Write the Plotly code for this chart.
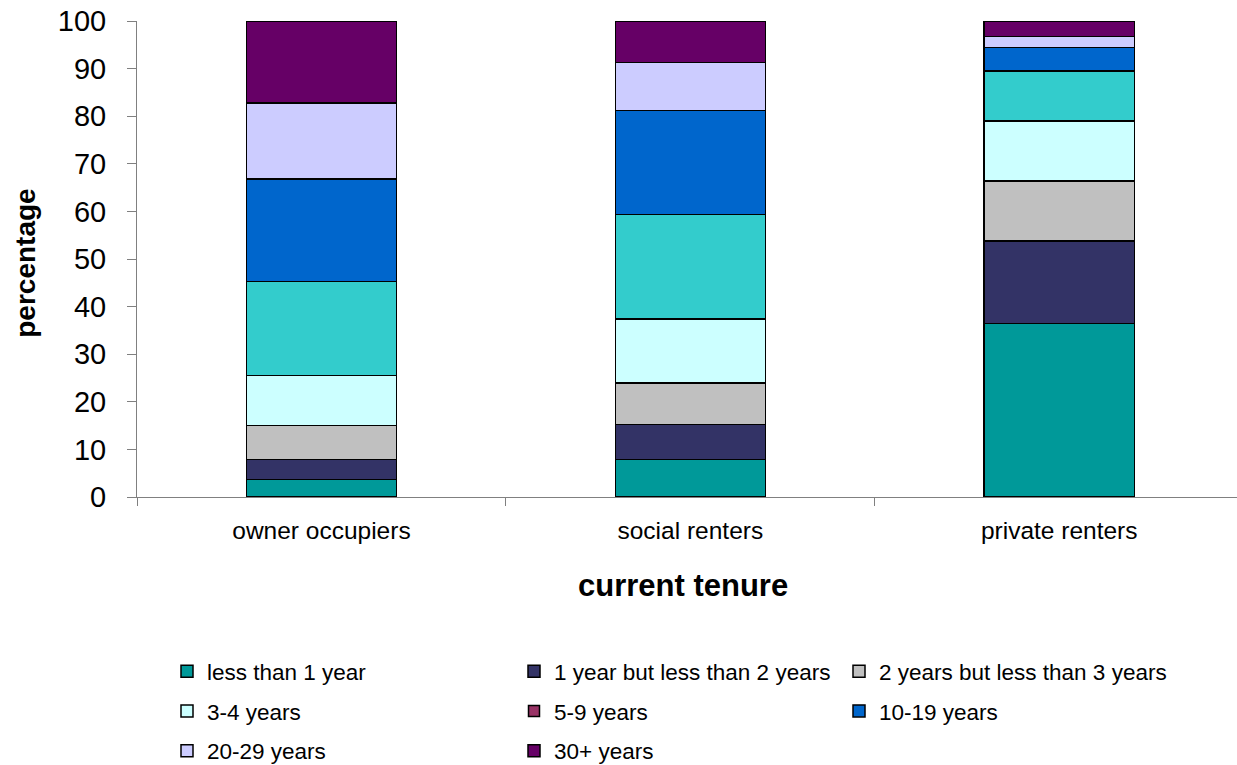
import plotly.graph_objects as go

categories = ["owner occupiers", "social renters", "private renters"]

series_names = [
    "less than 1 year",
    "1 year but less than 2 years",
    "2 years but less than 3 years",
    "3-4 years",
    "5-9 years",
    "10-19 years",
    "20-29 years",
    "30+ years",
]

less_than_1 = [3.7, 7.9, 36.5]
one_to_2 = [4.2, 7.3, 17.3]
two_to_3 = [7.1, 8.8, 12.6]
three_4 = [10.5, 13.4, 12.6]
five_9 = [19.8, 21.9, 10.5]
ten_19 = [21.5, 21.9, 4.9]
twenty_29 = [16.0, 10.1, 2.3]
thirty_plus = [17.2, 8.7, 3.3]

series_values = [less_than_1, one_to_2, two_to_3, three_4, five_9, ten_19, twenty_29, thirty_plus]

bar_colors = ["#009999", "#333366", "#C0C0C0", "#CCFFFF", "#33CCCC", "#0066CC", "#CCCCFF", "#660066"]
legend_colors = ["#009999", "#333366", "#C0C0C0", "#CCFFFF", "#993366", "#0066CC", "#CCCCFF", "#660066"]
legend_ids = ["legend", "legend2", "legend3", "legend", "legend2", "legend3", "legend", "legend2"]

y_ticks = [0, 10, 20, 30, 40, 50, 60, 70, 80, 90, 100]

FONT = "Liberation Sans, Arial, sans-serif"

fig = go.Figure()
for i, (name, vals) in enumerate(zip(series_names, series_values)):
    same = bar_colors[i] == legend_colors[i]
    fig.add_trace(go.Bar(
        x=categories, y=vals, name=name,
        width=0.407,
        marker=dict(color=bar_colors[i], line=dict(color="black", width=1.5)),
        showlegend=same, legend=legend_ids[i], legendgroup=name,
        hoverinfo="x+y+name",
    ))
    if not same:
        # legend swatch shown in a different colour than the bar (as in the original)
        fig.add_trace(go.Scatter(
            x=[categories[0]], y=[None], name=name, mode="markers",
            marker=dict(symbol="square", size=11, color=legend_colors[i],
                        line=dict(color="black", width=1.5)),
            showlegend=True, legend=legend_ids[i], legendgroup=name,
            hoverinfo="skip",
        ))

legend_common = dict(
    orientation="v", xref="container", yref="container",
    xanchor="left", yanchor="top", traceorder="grouped", tracegroupgap=7.5,
    font=dict(family=FONT, size=22.5, color="black"), bgcolor="rgba(0,0,0,0)",
    itemclick=False, itemdoubleclick=False,
)

fig.update_layout(
    barmode="stack",
    width=1237, height=765,
    margin=dict(l=137, r=0, t=21, b=268, autoexpand=False),
    paper_bgcolor="white", plot_bgcolor="white",
    font=dict(family=FONT, color="black"),
    xaxis=dict(
        type="category", categoryarray=categories, categoryorder="array",
        range=[-0.5, 2.482], tickson="boundaries",
        ticks="outside", ticklen=8, tickcolor="#808080", tickwidth=1,
        showline=True, linecolor="#808080", linewidth=1,
        showgrid=False, zeroline=False,
        tickfont=dict(family=FONT, size=24.5, color="black"),
        ticklabelstandoff=12, automargin=False,
    ),
    yaxis=dict(
        range=[0, 100], tickvals=y_ticks,
        ticks="outside", ticklen=9, tickcolor="#808080", tickwidth=1,
        showline=True, linecolor="#808080", linewidth=1,
        showgrid=False, zeroline=False,
        tickfont=dict(family=FONT, size=29, color="black"),
        ticklabelstandoff=15, automargin=False,
    ),
    legend=dict(x=167 / 1237, y=1 - 650 / 765, **legend_common),
    legend2=dict(x=514 / 1237, y=1 - 650 / 765, **legend_common),
    legend3=dict(x=839 / 1237, y=1 - 650 / 765, **legend_common),
    annotations=[
        dict(text="<b>current tenure</b>", xref="paper", yref="paper",
             x=(683 - 137) / 1100, y=-(585 - 496.7) / 475.7, xanchor="center", yanchor="middle",
             showarrow=False, font=dict(family=FONT, size=31, color="black")),
        dict(text="<b>percentage</b>", xref="paper", yref="paper",
             x=-(137 - 26) / 1100, y=0.49, xanchor="center", yanchor="middle",
             textangle=-90, showarrow=False, font=dict(family=FONT, size=28, color="black")),
    ],
)

fig.write_html("out.html")
